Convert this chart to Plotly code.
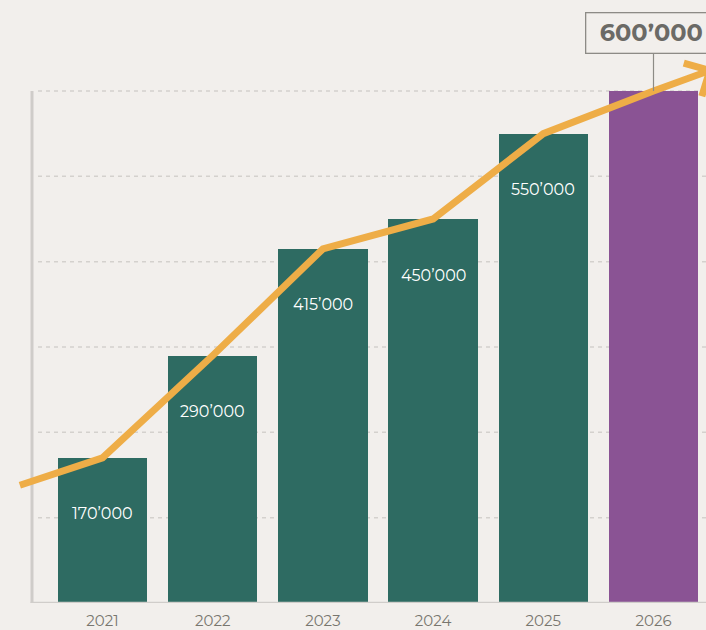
import math
import plotly.graph_objects as go

# ---------------- data ----------------
years = ["2021", "2022", "2023", "2024", "2025", "2026"]
values = [170000, 290000, 415000, 450000, 550000, 600000]
labels = ["170’000", "290’000", "415’000", "450’000", "550’000", "600’000"]
bar_colors = ["#2e6b62", "#2e6b62", "#2e6b62", "#2e6b62", "#2e6b62", "#8a5394"]
grid_values = [100000, 200000, 300000, 400000, 500000, 600000]

# trend line (orange) – starts left of first bar, runs through bar tops, ends past last bar
trend_x = [-0.75, 0, 1, 2, 3, 4, 5, 5.51]
trend_y = [138000, 170000, 290000, 415000, 450000, 550000, 600000, 624000]

# ---------------- layout constants ----------------
W, H = 706, 630
BG = "#f2efec"
ORANGE = "#eead47"
FONT = "Montserrat, Open Sans, sans-serif"
X_CENTER0_PX = 102.5      # pixel of first category centre
X_STEP_PX = 110.2         # pixels per category
Y_BASE_PX = 603           # pixel of value 0
PX_PER_UNIT_Y = 512 / 600000

x_range = [(0 - X_CENTER0_PX) / X_STEP_PX, (W - X_CENTER0_PX) / X_STEP_PX]
y_top = Y_BASE_PX / PX_PER_UNIT_Y
axis_x = (32 - X_CENTER0_PX) / X_STEP_PX
grid_x0 = (38 - X_CENTER0_PX) / X_STEP_PX

xs = list(range(len(years)))

fig = go.Figure()

# bars
fig.add_trace(go.Bar(
    x=xs, y=values, width=0.81,
    marker=dict(color=bar_colors, line=dict(width=0)),
    hoverinfo="skip", showlegend=False,
))

# trend line
fig.add_trace(go.Scatter(
    x=trend_x, y=trend_y, mode="lines",
    line=dict(color=ORANGE, width=7),
    hoverinfo="skip", showlegend=False,
))

# chevron arrow head at end of trend line (computed in pixel space)
tx, ty = trend_x[-1], trend_y[-1]
px, py = trend_x[-2], trend_y[-2]
dxp = (tx - px) * X_STEP_PX
dyp = (ty - py) * PX_PER_UNIT_Y
ang = math.atan2(dyp, dxp)
back = ang + math.pi
arm = 27
head_x, head_y = [], []
for a, d in [(back - math.radians(36), arm), (0, 0), (back + math.radians(53), arm)]:
    head_x.append(tx + d * math.cos(a) / X_STEP_PX)
    head_y.append(ty + d * math.sin(a) / PX_PER_UNIT_Y)
fig.add_trace(go.Scatter(
    x=head_x, y=head_y, mode="lines",
    line=dict(color=ORANGE, width=7),
    hoverinfo="skip", showlegend=False,
))

shapes = []
# dashed gridlines
for g in grid_values:
    shapes.append(dict(type="line", xref="x", yref="y", x0=grid_x0, x1=x_range[1] + 0.2,
                       y0=g, y1=g, line=dict(color="#d4d1cd", width=1.5, dash="4px,4px"),
                       layer="below"))
# axis lines
shapes.append(dict(type="line", xref="x", yref="y", x0=axis_x, x1=axis_x,
                   y0=0, y1=max(grid_values), line=dict(color="#cfccc9", width=3), layer="below"))
shapes.append(dict(type="line", xref="x", yref="y", x0=axis_x - 0.013, x1=x_range[1] + 0.2,
                   y0=0, y1=0, line=dict(color="#d0cdca", width=2.5), layer="above"))
# connector from callout box to the last bar
shapes.append(dict(type="line", xref="x", yref="y", x0=xs[-1], x1=xs[-1],
                   y0=values[-1], y1=values[-1] + 39 / PX_PER_UNIT_Y,
                   line=dict(color="#8d8b86", width=1.2), layer="above"))

annotations = []
# value labels inside bars (except the highlighted last one)
for i in range(len(years) - 1):
    annotations.append(dict(x=xs[i], y=values[i], xref="x", yref="y", text=labels[i],
                            showarrow=False, yshift=-56,
                            font=dict(family=FONT, size=16, color="#ffffff")))
# highlighted callout for last bar
annotations.append(dict(x=xs[-1], y=values[-1], xref="x", yref="y",
                        text="<b>" + labels[-1] + "</b>",
                        showarrow=False, xshift=-2, yshift=58.5,
                        width=124, height=33, borderpad=3,
                        bordercolor="#8d8b86", borderwidth=1.3, bgcolor=BG,
                        font=dict(family=FONT, size=24, color="#6b6a66")))

fig.update_layout(
    width=W, height=H,
    margin=dict(l=0, r=0, t=0, b=H - Y_BASE_PX),
    paper_bgcolor=BG, plot_bgcolor=BG,
    bargap=0,
    shapes=shapes, annotations=annotations,
    xaxis=dict(range=x_range, tickmode="array", tickvals=xs, ticktext=years,
               showgrid=False, zeroline=False, showline=False, ticks="",
               tickfont=dict(family=FONT, size=15, color="#78766f"),
               ticklabelstandoff=7),
    yaxis=dict(range=[0, y_top], showgrid=False, zeroline=False, showline=False,
               showticklabels=False, ticks=""),
)

fig.write_html("out.html",
               config={"displayModeBar": False},
               post_script="document.body.style.margin='0';document.body.style.padding='0';"
                           "document.body.style.overflow='hidden';")
